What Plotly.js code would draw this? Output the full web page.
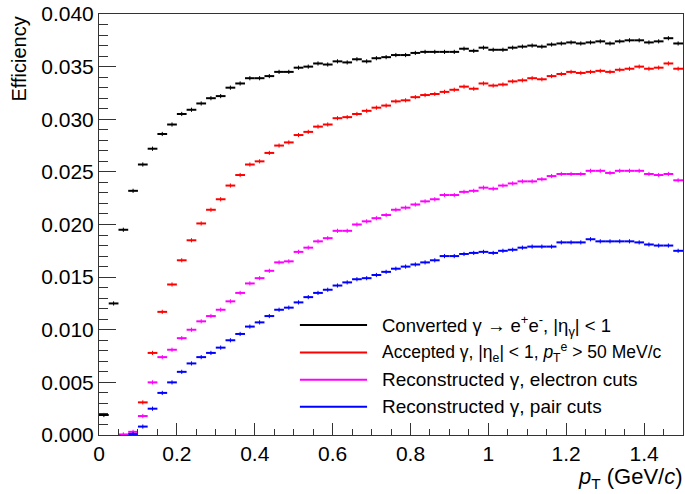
<!DOCTYPE html>
<html>
<head>
<meta charset="utf-8">
<script src="https://cdn.plot.ly/plotly-3.0.1.min.js"></script>
<style>
  html, body { margin: 0; padding: 0; background: #ffffff; }
  #chart { width: 685px; height: 494px; }
</style>
</head>
<body>
<div id="chart"></div>
<script>
// ---- data: pT bin centres (GeV/c), bin half-width, efficiencies per bin ----
const ptCenters = [
  0.0125, 0.0375, 0.0625, 0.0875, 0.1125, 0.1375, 0.1625, 0.1875, 0.2125, 0.2375,
  0.2625, 0.2875, 0.3125, 0.3375, 0.3625, 0.3875, 0.4125, 0.4375, 0.4625, 0.4875,
  0.5125, 0.5375, 0.5625, 0.5875, 0.6125, 0.6375, 0.6625, 0.6875, 0.7125, 0.7375,
  0.7625, 0.7875, 0.8125, 0.8375, 0.8625, 0.8875, 0.9125, 0.9375, 0.9625, 0.9875,
  1.0125, 1.0375, 1.0625, 1.0875, 1.1125, 1.1375, 1.1625, 1.1875, 1.2125, 1.2375,
  1.2625, 1.2875, 1.3125, 1.3375, 1.3625, 1.3875, 1.4125, 1.4375, 1.4625, 1.4875
];
const binHalfWidth = 0.0125;

const effConverted = [
  0.0019, 0.0125, 0.0195, 0.0232, 0.0257, 0.0272, 0.0286, 0.0295, 0.0305, 0.0309,
  0.0315, 0.0320, 0.0322, 0.0330, 0.0334, 0.0339, 0.0339, 0.0341, 0.0345, 0.0345,
  0.0349, 0.0350, 0.0353, 0.0352, 0.0355, 0.0354, 0.0357, 0.0355, 0.0358, 0.0359,
  0.0361, 0.0361, 0.0363, 0.0364, 0.0364, 0.0364, 0.0364, 0.0367, 0.0365, 0.0368,
  0.0366, 0.0366, 0.0368, 0.0369, 0.0370, 0.0369, 0.0371, 0.0372, 0.0373, 0.0372,
  0.0373, 0.0374, 0.0372, 0.0374, 0.0375, 0.0375, 0.0373, 0.0374, 0.0377, 0.0372
];
const effAccepted = [
  null, null, null, null, 0.0031, 0.0078, 0.0117, 0.0143, 0.0166, 0.0185,
  0.0201, 0.0214, 0.0224, 0.0237, 0.0247, 0.0257, 0.0260, 0.0268, 0.0275, 0.0278,
  0.0285, 0.0288, 0.0293, 0.0295, 0.0301, 0.0302, 0.0305, 0.0308, 0.0311, 0.0313,
  0.0317, 0.0318, 0.0321, 0.0323, 0.0324, 0.0326, 0.0328, 0.0331, 0.0329, 0.0334,
  0.0332, 0.0333, 0.0336, 0.0337, 0.0339, 0.0338, 0.0341, 0.0343, 0.0345, 0.0344,
  0.0345, 0.0346, 0.0345, 0.0347, 0.0348, 0.0350, 0.0348, 0.0349, 0.0353, 0.0348
];
const effRecoElectron = [
  null, null, 0.00005, 0.0003, 0.0018, 0.0050, 0.0074, 0.0081, 0.0092, 0.0100,
  0.0108, 0.0113, 0.0119, 0.0127, 0.0135, 0.0144, 0.0149, 0.0156, 0.0164, 0.0165,
  0.0174, 0.0178, 0.0184, 0.0187, 0.0194, 0.0194, 0.0200, 0.0203, 0.0206, 0.0209,
  0.0214, 0.0216, 0.0219, 0.0222, 0.0224, 0.0228, 0.0228, 0.0231, 0.0232, 0.0235,
  0.0234, 0.0237, 0.0239, 0.0241, 0.0241, 0.0243, 0.0246, 0.0248, 0.0248, 0.0248,
  0.0251, 0.0251, 0.0249, 0.0251, 0.0251, 0.0251, 0.0248, 0.0247, 0.0248, 0.0242
];
const effRecoPair = [
  null, null, null, 0.0001, 0.0008, 0.0025, 0.0040, 0.0050, 0.0060, 0.0068,
  0.0074, 0.0078, 0.0083, 0.0090, 0.0096, 0.0103, 0.0107, 0.0113, 0.0119, 0.0121,
  0.0126, 0.0131, 0.0135, 0.0138, 0.0142, 0.0145, 0.0148, 0.0149, 0.0152, 0.0155,
  0.0158, 0.0160, 0.0162, 0.0164, 0.0166, 0.0170, 0.0170, 0.0172, 0.0173, 0.0174,
  0.0173, 0.0175, 0.0176, 0.0178, 0.0179, 0.0179, 0.0179, 0.0183, 0.0183, 0.0183,
  0.0186, 0.0184, 0.0184, 0.0184, 0.0184, 0.0183, 0.0181, 0.0180, 0.0180, 0.0175
];

const seriesNames = [
  'Converted γ → e<sup>+</sup>e<sup>-</sup>, |η<sub>γ</sub>| &lt; 1',
  'Accepted γ, |η<sub>e</sub>| &lt; 1, <i>p</i><sub>T</sub><sup>e</sup> &gt; 50 MeV/c',
  'Reconstructed γ, electron cuts',
  'Reconstructed γ, pair cuts'
];
const seriesColors = ['#000000', '#ff0000', '#ff00ff', '#0000ff'];
const seriesValues = [effConverted, effAccepted, effRecoElectron, effRecoPair];

const yTickVals = [0, 0.005, 0.01, 0.015, 0.02, 0.025, 0.03, 0.035, 0.04];
const xTickVals = [0, 0.2, 0.4, 0.6, 0.8, 1.0, 1.2, 1.4];
const xTickText = ['0', '0.2', '0.4', '0.6', '0.8', '1', '1.2', '1.4'];

const FONT = 'Liberation Sans, Arial, sans-serif';

// ---- traces ----
const traces = seriesValues.map((vals, i) => ({
  type: 'scatter',
  mode: 'markers',
  x: ptCenters,
  y: vals,
  name: seriesNames[i],
  showlegend: false,
  marker: { symbol: 'line-ns', size: 3, line: { color: seriesColors[i], width: 1 }, color: seriesColors[i] },
  error_x: { type: 'constant', value: binHalfWidth, width: 0, thickness: 2, color: seriesColors[i] },
  hoverinfo: 'x+y'
}));

// ---- manual ROOT-style legend (line + text) ----
const legendRowsY = [0.261, 0.196, 0.131, 0.067];
const legendFontSizes = [18.5, 17.5, 19, 19];
const shapes = [];
const annotations = [];
seriesNames.forEach((nm, i) => {
  shapes.push({
    type: 'line', xref: 'paper', yref: 'paper',
    x0: 0.344, x1: 0.459, y0: legendRowsY[i], y1: legendRowsY[i],
    line: { color: seriesColors[i], width: 2 }
  });
  annotations.push({
    xref: 'paper', yref: 'paper', x: 0.481, y: legendRowsY[i],
    xanchor: 'left', yanchor: 'middle', showarrow: false,
    text: nm, font: { family: FONT, size: legendFontSizes[i], color: '#000' }
  });
});
annotations.push({
  xref: 'paper', yref: 'paper', x: 1.003, y: -0.102, xanchor: 'right', yanchor: 'middle',
  showarrow: false, text: '<i>p</i><sub>T</sub> (GeV/<i>c</i>)',
  font: { family: FONT, size: 22, color: '#000' }
});
annotations.push({
  xref: 'paper', yref: 'paper', x: -0.137, y: 1.0, xanchor: 'center', yanchor: 'top',
  textangle: -90, showarrow: false, text: 'Efficiency',
  font: { family: FONT, size: 20, color: '#000' }
});

const layout = {
  width: 685, height: 494,
  margin: { l: 99, r: 2, t: 14, b: 59 },
  paper_bgcolor: '#ffffff', plot_bgcolor: '#ffffff',
  font: { family: FONT, size: 21, color: '#000' },
  showlegend: false,
  xaxis: {
    range: [0, 1.5], showgrid: false, zeroline: false,
    showline: true, mirror: true, linecolor: '#333', linewidth: 1,
    ticks: 'inside', ticklen: 12, tickcolor: '#333', tickwidth: 1,
    tickvals: xTickVals, ticktext: xTickText,
    tickfont: { family: FONT, size: 21, color: '#000' },
    minor: { ticks: 'inside', ticklen: 6, dtick: 0.05, tick0: 0, tickcolor: '#333', showgrid: false }
  },
  yaxis: {
    range: [0, 0.04], showgrid: false, zeroline: false,
    showline: true, mirror: true, linecolor: '#333', linewidth: 1,
    ticks: 'inside', ticklen: 17, tickcolor: '#333', tickwidth: 1,
    tickvals: yTickVals, tickformat: '.3f',
    tickfont: { family: FONT, size: 21, color: '#000' },
    minor: { ticks: 'inside', ticklen: 9, dtick: 0.001, tick0: 0, tickcolor: '#333', showgrid: false }
  },
  shapes: shapes,
  annotations: annotations
};

Plotly.newPlot('chart', traces, layout, { staticPlot: true, displayModeBar: false });
</script>
</body>
</html>
